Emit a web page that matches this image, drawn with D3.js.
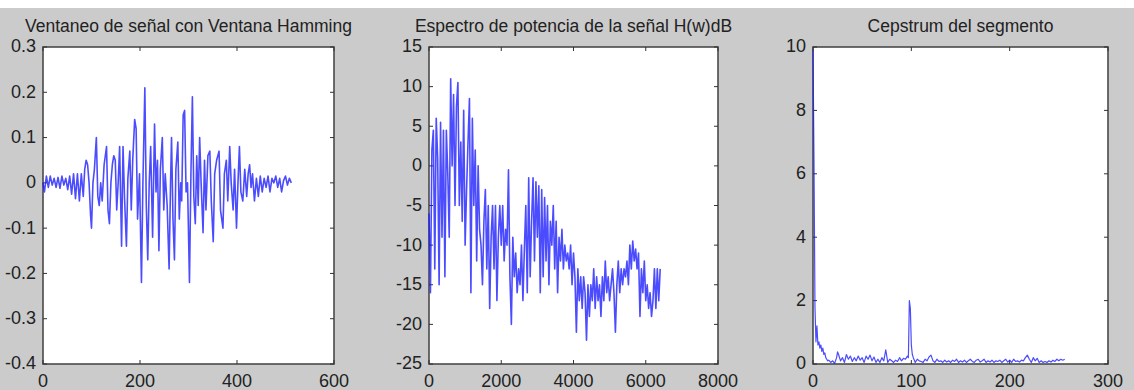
<!DOCTYPE html>
<html>
<head>
<meta charset="utf-8">
<script src="https://cdn.jsdelivr.net/npm/d3@7"></script>
<style>
  body { margin: 0; background: #fff; }
  text { font-family: "Liberation Sans", Arial, sans-serif; fill: #222; }
</style>
</head>
<body>
<div id="vis"></div>
<script>
// windowed speech segment (Hamming)
const winX = [0,3,7,11,15,19,23,27,31,35,39,43,47,51,55,59,63,67,71,75,79,83,86,89,92,95,98,100,103,106,110,113,116,119,122,126,131,134,137,140,143,146,149,152,155,158,162,165,168,172,175,179,182,185,189,192,195,199,203,206,210,213,216,219,222,226,230,233,236,239,242,246,249,252,256,260,263,265,268,271,274,278,281,284,286,289,292,295,298,302,305,308,311,314,317,320,323,326,330,333,336,340,344,347,351,354,358,363,366,371,374,378,381,385,388,392,395,399,402,405,408,412,416,420,423,426,429,432,436,440,444,448,452,456,460,464,468,472,476,480,484,488,492,496,500,504,508,512]
const winY = [0,-0.02,0.015,-0.01,0.015,-0.005,0.01,-0.01,0.012,-0.012,0.015,-0.005,0.01,-0.015,0.015,-0.025,0.02,-0.035,0.02,-0.04,0.02,-0.03,0.03,0.05,0.04,0,-0.07,-0.1,0,0.03,0.1,-0.03,-0.05,0,-0.04,0.04,0.08,-0.06,-0.09,0,0.04,0.06,0.05,-0.06,0,0.08,-0.14,0.08,-0.03,-0.14,0.01,0.07,-0.06,0.05,0.14,0.12,-0.08,0.02,-0.22,0,0.21,-0.05,-0.17,0,0.08,-0.12,0.13,-0.02,0.05,-0.15,0.03,0.1,-0.06,0.02,-0.05,-0.19,0,0.1,-0.08,-0.17,0.03,0.09,-0.08,0,-0.04,0.15,0.16,-0.02,0,-0.22,0.02,0.19,-0.03,-0.09,0.06,-0.05,0.1,0,-0.11,0.05,-0.06,0.06,0.07,-0.04,-0.13,0.02,0.05,0.07,-0.06,-0.1,0.02,0.05,-0.04,0.08,0,-0.06,0.03,-0.1,0,0.08,-0.02,-0.04,0.03,-0.03,0.02,0.04,-0.01,0.02,-0.04,0.01,-0.03,0.015,-0.02,0.01,-0.01,0.015,-0.02,0.01,0,0.015,-0.01,0.01,-0.02,0.005,0.015,-0.005,0.01,0]

// power spectrum in dB
const specX = [0,40,80,120,160,200,240,280,320,360,400,440,480,520,560,600,640,680,720,760,800,840,880,920,960,1000,1040,1080,1120,1160,1200,1240,1280,1320,1360,1400,1440,1480,1520,1560,1600,1640,1680,1720,1760,1800,1840,1880,1920,1960,2000,2040,2080,2120,2160,2200,2240,2280,2320,2360,2400,2440,2480,2520,2560,2600,2640,2680,2720,2760,2800,2840,2880,2920,2960,3000,3040,3080,3120,3160,3200,3240,3280,3320,3360,3400,3440,3480,3520,3560,3600,3640,3680,3720,3760,3800,3840,3880,3920,3960,4000,4040,4080,4120,4160,4200,4240,4280,4320,4360,4400,4440,4480,4520,4560,4600,4640,4680,4720,4760,4800,4840,4880,4920,4960,5000,5040,5080,5120,5160,5200,5240,5280,5320,5360,5400,5440,5480,5520,5560,5600,5640,5680,5720,5760,5800,5840,5880,5920,5960,6000,6040,6080,6120,6160,6200,6240,6280,6320,6360,6400]
const specY = [-6,-16,2,4.5,-13,6,1,-15,5.5,-9,4.5,-14,4.5,-1,-9,11,0,9,-5,7.5,10.5,-5,3,-7,7,-10,-3,3,8.5,-16,6,-5,2,-12,0,-8,-10,-15,-7,-3,-13,-5,-18,-9,-5,-13,-5,-17,-9,-5,-10,-5,-12,-8,-10,-0.5,-14,-20,-9,-14,-11,-16,-13,-15,-10,-17,-10.5,-5,-16,-1.5,-14,-7,-1.5,-12,-2,-9,-2.5,-16,-3,-14,-4,-12,-5,-15,-7,-10,-5,-13,-7,-16,-9,-12,-8,-13,-10,-12,-11,-13,-10,-15,-11,-14,-21,-13,-17,-14,-18,-14,-16,-22,-15,-19,-15,-17,-13,-18,-14,-17,-15,-19,-14,-17,-12,-16,-14,-17,-15,-13,-16,-21,-15,-12,-16,-13,-15,-13,-14,-12,-15,-10,-13,-9.5,-12,-10.5,-13,-11,-19,-13,-16,-12,-17,-15,-18,-16,-19,-17,-13,-18,-13,-17,-13]

// cepstrum
const cepX = [0,1,2,3,4,5,6,7,8,9,10,11,12,13,14,15,16,18,20,22,24,25,26,28,30,32,34,36,38,40,42,44,46,48,50,52,54,56,58,60,62,64,66,68,70,72,74,75,76,78,80,82,84,86,88,90,92,94,96,97,98,99,100,101,102,104,106,108,110,112,114,116,118,120,122,124,126,128,130,132,134,136,138,140,142,144,146,148,150,152,154,156,158,160,162,164,166,168,170,172,174,176,178,180,182,184,186,188,190,192,194,196,198,200,202,204,206,208,210,212,214,216,218,220,222,224,226,228,230,232,234,236,238,240,242,244,246,248,250,252,254,256]
const cepY = [9.9,6.4,1.8,0.7,1.2,0.6,0.7,0.5,0.6,0.4,0.5,0.3,0.35,0.2,0.15,0.1,0.12,0.05,0.1,0.02,0.2,0.38,0.3,0.1,0.2,0.05,0.3,0.15,0.25,0.08,0.2,0.1,0.25,0.12,0.2,0.05,0.25,0.15,0.28,0.1,0.22,0.05,0.15,0.05,0.2,0.1,0.45,0.25,0.05,0.15,0.1,0.05,0.12,0.08,0.2,0.1,0.18,0.15,0.25,0.2,2.0,1.75,0.6,0.3,0.2,0.05,0.15,0.1,0.08,0.05,0.15,0.1,0.22,0.28,0.1,0.05,0.15,0.08,0.1,0.05,0.12,0.06,0.1,0.05,0.12,0.08,0.15,0.05,0.1,0.06,0.12,0.05,0.1,0.15,0.08,0.05,0.12,0.15,0.06,0.1,0.15,0.05,0.1,0.06,0.12,0.05,0.1,0.08,0.12,0.05,0.1,0.15,0.06,0.12,0.05,0.15,0.08,0.1,0.06,0.12,0.1,0.2,0.28,0.15,0.05,0.2,0.1,0.18,0.05,0.1,0.05,0.08,0.05,0.1,0.06,0.12,0.08,0.15,0.1,0.15,0.12,0.15]

const titles = ["Ventaneo de señal con Ventana Hamming", "Espectro de potencia de la señal H(w)dB", "Cepstrum del segmento"]
const xTicks1 = [0, 200, 400, 600]
const yTicks1 = [-0.4, -0.3, -0.2, -0.1, 0, 0.1, 0.2, 0.3]
const xTicks2 = [0, 2000, 4000, 6000, 8000]
const yTicks2 = [-25, -20, -15, -10, -5, 0, 5, 10, 15]
const xTicks3 = [0, 100, 200, 300]
const yTicks3 = [0, 2, 4, 6, 8, 10]

const W = 1134, H = 390
const axTop = 47, axBottom = 364

let svg = d3.select("#vis").append("svg")
  .attr("width", W)
  .attr("height", H)

svg.append("rect").attr("width", W).attr("height", H).attr("fill", "#cbcbcb")
svg.append("rect").attr("width", W).attr("height", 8).attr("fill", "#ffffff")

function drawPanel(p) {
  let x = d3.scaleLinear().domain(d3.extent(p.xTicks)).range([p.left, p.right])
  let y = d3.scaleLinear().domain(d3.extent(p.yTicks)).range([axBottom, axTop])

  let g = svg.append("g")

  g.append("rect")
    .attr("x", p.left).attr("y", axTop)
    .attr("width", p.right - p.left).attr("height", axBottom - axTop)
    .attr("fill", "#fff")

  // box and inward ticks (all four sides)
  g.append("rect")
    .attr("x", p.left).attr("y", axTop)
    .attr("width", p.right - p.left).attr("height", axBottom - axTop)
    .attr("fill", "none").attr("stroke", "#4a4a4a").attr("stroke-width", 1.6)

  let tl = 4
  p.xTicks.forEach(t => {
    g.append("line").attr("x1", x(t)).attr("x2", x(t)).attr("y1", axBottom).attr("y2", axBottom - tl).attr("stroke", "#333")
    g.append("line").attr("x1", x(t)).attr("x2", x(t)).attr("y1", axTop).attr("y2", axTop + tl).attr("stroke", "#333")
    g.append("text")
      .attr("x", x(t)).attr("y", 387)
      .attr("text-anchor", "middle")
      .style("font-size", "18px")
      .text(t)
  })
  p.yTicks.forEach(t => {
    g.append("line").attr("x1", p.left).attr("x2", p.left + tl).attr("y1", y(t)).attr("y2", y(t)).attr("stroke", "#333")
    g.append("line").attr("x1", p.right).attr("x2", p.right - tl).attr("y1", y(t)).attr("y2", y(t)).attr("stroke", "#333")
    g.append("text")
      .attr("x", p.left - 7).attr("y", y(t))
      .attr("dy", "0.3em")
      .attr("text-anchor", "end")
      .style("font-size", "18px")
      .text(t)
  })

  // data line drawn over the box, as in the original figure
  let line = d3.line().x(d => x(d[0])).y(d => y(d[1]))
  g.append("path")
    .datum(p.xs.map((v, i) => [v, p.ys[i]]))
    .attr("d", line)
    .attr("fill", "none")
    .attr("stroke", "#1a1aff")
    .attr("stroke-opacity", 0.78)
    .attr("stroke-width", p.sw)
    .attr("stroke-linejoin", "round")

  g.append("text")
    .attr("x", (p.left + p.right) / 2).attr("y", 32)
    .attr("text-anchor", "middle")
    .style("font-size", "17.5px")
    .text(p.title)
}

drawPanel({ left: 43, right: 334, xs: winX, ys: winY, xTicks: xTicks1, yTicks: yTicks1, title: titles[0], sw: 1.6 })
drawPanel({ left: 429, right: 718, xs: specX, ys: specY, xTicks: xTicks2, yTicks: yTicks2, title: titles[1], sw: 1.6 })
drawPanel({ left: 813, right: 1108, xs: cepX, ys: cepY, xTicks: xTicks3, yTicks: yTicks3, title: titles[2], sw: 1.2 })
</script>
</body>
</html>
